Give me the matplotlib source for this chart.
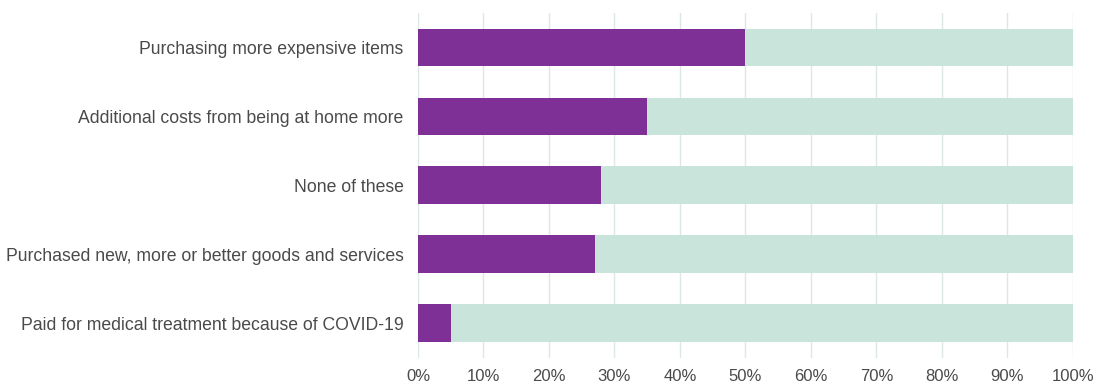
import numpy as np
import matplotlib.pyplot as plt
from matplotlib.ticker import PercentFormatter

categorias = [
    "Purchasing more expensive items",
    "Additional costs from being at home more",
    "None of these",
    "Purchased new, more or better goods and services",
    "Paid for medical treatment because of COVID-19",
]
valores = [50, 35, 28, 27, 5]
total = [100, 100, 100, 100, 100]
ticks_x = [0, 10, 20, 30, 40, 50, 60, 70, 80, 90, 100]

ROXO = "#7f3096"
VERDE = "#c8e4db"
TEXTO = "#4a4a4a"

plt.rcParams["font.family"] = ["Liberation Sans", "DejaVu Sans"]

fig = plt.figure(figsize=(10.93, 3.84), dpi=100)
ax = fig.add_axes([0.3824, 0.069, 0.5993, 0.898])

y = np.arange(len(categorias))
ax.barh(y, total, height=0.54, color=VERDE, zorder=2)
ax.barh(y, valores, height=0.54, color=ROXO, zorder=3)

ax.set_ylim(len(categorias) - 0.5, -0.5)
ax.set_xlim(0, 100)
ax.set_yticks(y)
ax.set_yticklabels(categorias, fontsize=12.7, color=TEXTO)
ax.set_xticks(ticks_x)
ax.xaxis.set_major_formatter(PercentFormatter(decimals=0))
ax.tick_params(axis="x", labelsize=12, colors=TEXTO, length=0, pad=8)
ax.tick_params(axis="y", length=0, pad=10.5)

ax.grid(axis="x", color="#dde8e5", linewidth=1, zorder=1)
for lado in ["top", "right", "bottom", "left"]:
    ax.spines[lado].set_visible(False)

fig.savefig("out.png", dpi=100)
